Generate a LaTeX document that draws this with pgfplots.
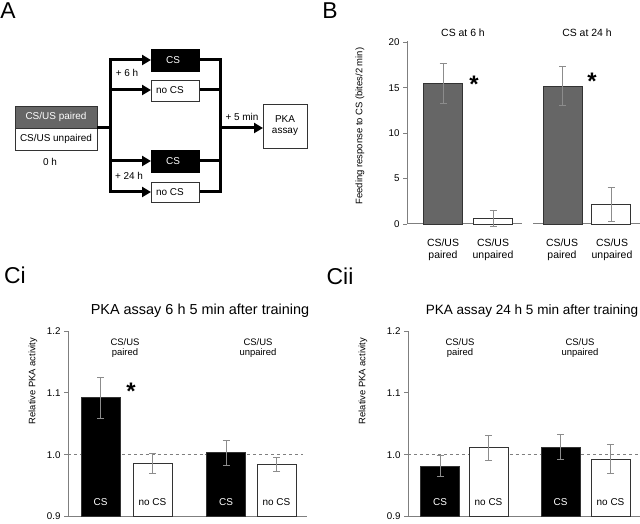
\documentclass[border=0pt]{standalone}
\usepackage{pgfplots}
\pgfplotsset{compat=1.18}
\usepackage{fontspec}
\setmainfont{Liberation Sans}
\usetikzlibrary{arrows.meta}

\definecolor{axgray}{HTML}{7F7F7F}
\definecolor{errgray}{HTML}{8C8C8C}
\definecolor{bargray}{HTML}{666666}
\definecolor{edge}{HTML}{333333}

\newcommand{\fs}[1]{\fontsize{#1}{#1}\selectfont}

\pgfplotsset{
  panel/.style={
    scale only axis,
    axis x line*=bottom, axis y line*=left,
    axis line style={axgray, line width=1bp},
    xtick=\empty, xmin=0,
    tick align=outside, major tick length=4bp,
    ytick pos=left,
    tick style={axgray, line width=0.8bp},
    y tick label style={font=\fs{9.8}},
    /pgf/number format/assume math mode=true,
  },
  errbar/.style={
    error bars/.cd, y dir=both, y explicit,
    error bar style={errgray, line width=1bp},
    error mark options={errgray, line width=1bp, mark size=3.5bp, rotate=90},
  },
  barstyle/.style={ybar, bar width=39, draw=edge, line width=0.8bp},
}

\begin{document}
\begin{tikzpicture}[x=1bp, y=1bp]
\useasboundingbox (0,0) rectangle (640,524);

% panel letters
\node[font=\fs{23}] at (8,513) {A};
\node[font=\fs{23}] at (330,513) {B};
\node[font=\fs{23}] at (15,249) {Ci};
\node[font=\fs{23}] at (340,248) {Cii};

% ---- A: protocol diagram
\begin{scope}[font=\fs{10}]
\draw[fill=bargray, draw=edge, line width=0.8bp] (15,396) rectangle (97,418);
\node[white] at (56,407) {CS/US paired};
\draw[fill=white, draw=edge, line width=0.8bp] (15,374) rectangle (97,396);
\node at (56,385) {CS/US unpaired};
\node at (50,362) {0 h};

\draw[line width=3bp] (97,396) -- (110,396);
\draw[line width=3bp] (110,465.5) -- (110,330.5);
\foreach \yy in {464,434,363,332}
  \draw[line width=3bp, -{Triangle[length=9bp,width=10bp]}] (109,\yy) -- (151,\yy);
\draw[line width=3bp] (199,464) -- (220,464);
\draw[line width=3bp] (199,434) -- (220,434);
\draw[line width=3bp] (199,363) -- (220,363);
\draw[line width=3bp] (199,332) -- (220,332);
\draw[line width=3bp] (220,465.5) -- (220,330.5);
\draw[line width=3bp, -{Triangle[length=9bp,width=10bp]}] (219,396) -- (263,396);

\draw[fill=black] (151,453) rectangle (199,475);
\node[white] at (173,464) {CS};
\draw[fill=white, draw=edge, line width=0.8bp] (151,423) rectangle (199,444);
\node at (170,433.5) {no CS};
\draw[fill=black] (151,352) rectangle (199,374);
\node[white] at (173,363) {CS};
\draw[fill=white, draw=edge, line width=0.8bp] (151,322) rectangle (199,342);
\node at (170,332) {no CS};

\node at (127,451) {+ 6 h};
\node at (129,348) {+ 24 h};
\node at (242,407) {+ 5 min};
\draw[fill=white, draw=edge, line width=0.8bp] (263,376) rectangle (307,420);
\node[align=center] at (285,398) {PKA\\[1bp]assay};
\end{scope}

% ---- B: feeding response
\begin{scope}[shift={(407bp,300bp)}]
\begin{axis}[panel, at={(0,0)}, anchor=origin,
  width=115bp, height=183.4bp, xmax=115,
  ymin=0, ymax=20.2, ytick={0,5,10,15,20}, clip=false]
\addplot[barstyle, fill=bargray, errbar] coordinates {(36,15.5) +- (0,2.2)};
\addplot[barstyle, fill=white, errbar] coordinates {(86,0.6) +- (0,0.9)};
\end{axis}
\end{scope}
\begin{scope}[shift={(533bp,300bp)}]
\begin{axis}[panel, at={(0,0)}, anchor=origin,
  width=107bp, height=183.4bp, xmax=107,
  ymin=0, ymax=20.2, axis y line=none, ytick=\empty, clip=false]
\addplot[barstyle, fill=bargray, errbar] coordinates {(29.5,15.2) +- (0,2.1)};
\addplot[barstyle, fill=white, errbar] coordinates {(78,2.15) +- (0,1.9)};
\end{axis}
\end{scope}
\node[rotate=90, font=\fs{9.5}] at (360,398) {Feeding response to CS (bites/2 min)};
\node[font=\fs{10.5}] at (463,491) {CS at 6 h};
\node[font=\fs{10.5}] at (587,491) {CS at 24 h};
\foreach \xx/\ww in {443/paired, 493/unpaired, 562/paired, 612/unpaired}
  \node[font=\fs{10.5}, align=center] at (\xx,274) {CS/US\\[1bp]\ww};
\node[font=\bfseries\fs{24}] at (474,440) {*};
\node[font=\bfseries\fs{24}] at (592,443) {*};

% ---- Ci
\begin{scope}[shift={(68bp,7.5bp)}]
\begin{axis}[panel, at={(0,0)}, anchor=south west,
  width=239bp, height=185.5bp, xmax=239,
  ymin=0.9, ymax=1.2, ytick={0.9,1.0,1.1,1.2},
  yticklabel style={/pgf/number format/.cd, fixed, fixed zerofill, precision=1}]
\draw[dashed, axgray, line width=1bp] (axis cs:0,1) -- (axis cs:235,1);
\addplot[barstyle, fill=black, errbar] coordinates {(32.5,1.092) +- (0,0.033)};
\addplot[barstyle, fill=white, errbar] coordinates {(84.5,0.986) +- (0,0.016)};
\addplot[barstyle, fill=black, errbar] coordinates {(158,1.003) +- (0,0.020)};
\addplot[barstyle, fill=white, errbar] coordinates {(208.5,0.984) +- (0,0.011)};
\end{axis}
\end{scope}
\node[font=\fs{14.5}] at (200,213) {PKA assay 6 h 5 min after training};
\node[rotate=90, font=\fs{9.4}] at (33,143) {Relative PKA activity};
\node[font=\fs{9.5}, align=center] at (125,176) {CS/US\\[1bp]paired};
\node[font=\fs{9.5}, align=center] at (258,176) {CS/US\\[1bp]unpaired};
\node[font=\bfseries\fs{24}] at (131,133) {*};
\node[font=\fs{10}, white] at (100.5,22) {CS};
\node[font=\fs{10}] at (152.5,22) {no CS};
\node[font=\fs{10}, white] at (226,22) {CS};
\node[font=\fs{10}] at (276.5,22) {no CS};

% ---- Cii
\begin{scope}[shift={(408bp,7.5bp)}]
\begin{axis}[panel, at={(0,0)}, anchor=south west,
  width=232bp, height=185.5bp, xmax=232,
  ymin=0.9, ymax=1.2, ytick={0.9,1.0,1.1,1.2},
  yticklabel style={/pgf/number format/.cd, fixed, fixed zerofill, precision=1}]
\draw[dashed, axgray, line width=1bp] (axis cs:0,1) -- (axis cs:232,1);
\addplot[barstyle, fill=black, errbar] coordinates {(32,0.981) +- (0,0.017)};
\addplot[barstyle, fill=white, errbar] coordinates {(80.5,1.011) +- (0,0.020)};
\addplot[barstyle, fill=black, errbar] coordinates {(152.5,1.012) +- (0,0.020)};
\addplot[barstyle, fill=white, errbar] coordinates {(202.5,0.993) +- (0,0.024)};
\end{axis}
\end{scope}
\node[font=\fs{13.6}] at (532,213) {PKA assay 24 h 5 min after training};
\node[rotate=90, font=\fs{9.4}] at (363,143) {Relative PKA activity};
\node[font=\fs{9.5}, align=center] at (460,176) {CS/US\\[1bp]paired};
\node[font=\fs{9.5}, align=center] at (580,176) {CS/US\\[1bp]unpaired};
\node[font=\fs{10}, white] at (440,22) {CS};
\node[font=\fs{10}] at (488.5,22) {no CS};
\node[font=\fs{10}, white] at (560.5,22) {CS};
\node[font=\fs{10}] at (610.5,22) {no CS};
\end{tikzpicture}
\end{document}
